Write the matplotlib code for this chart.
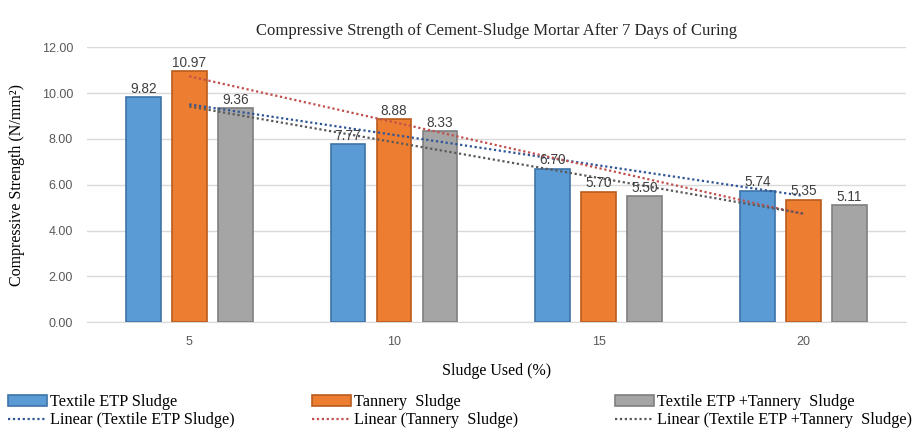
import numpy as np
import matplotlib.pyplot as plt
from matplotlib.patches import Patch
from matplotlib.lines import Line2D

# Data ............................................................................................

categories = ['5', '10', '15', '20']
textile = [9.82, 7.77, 6.70, 5.74]
tannery = [10.97, 8.88, 5.70, 5.35]
mixed = [9.36, 8.33, 5.50, 5.11]

names = ['Textile ETP Sludge', 'Tannery  Sludge', 'Textile ETP +Tannery  Sludge']
y_ticks = [0, 2, 4, 6, 8, 10, 12]

# Styles
bar_colors = ['#5B9BD5', '#ED7D31', '#A5A5A5']
edge_colors = ['#3E73A8', '#B95C1E', '#7F7F7F']
trend_colors = ['#2F5597', '#C0504D', '#595959']

serif = 'Liberation Serif'
sans = 'Liberation Sans'

# Figure ..........................................................................................

fig = plt.figure(figsize = (9.15, 4.29), dpi = 100)
ax = fig.add_axes([0.095, 0.249, 0.895, 0.641])

x = np.arange(len(categories))
width = 0.17
offsets = [-0.225, 0, 0.225]
series = [textile, tannery, mixed]

for vals, off, c, ec in zip(series, offsets, bar_colors, edge_colors):
    bars = ax.bar(x + off, vals, width, color = c, edgecolor = ec, linewidth = 1.2, zorder = 3)
    for b, v in zip(bars, vals):
        ax.text(b.get_x() + b.get_width() / 2, v + 0.05, f'{v:.2f}', ha = 'center', va = 'bottom',
                fontsize = 9.8, family = sans, color = '#404040', zorder = 5)

# Linear trendlines (least squares over category index, as Excel does)
for vals, c in zip(series, trend_colors):
    k, b0 = np.polyfit(x + 1, vals, 1)
    ax.plot(x, k * (x + 1) + b0, color = c, lw = 1.6, ls = (0, (1, 1.2)), zorder = 4)

ax.set_xlim(-0.5, 3.5)
ax.set_ylim(0, 12)
ax.set_yticks(y_ticks)
ax.set_yticklabels([f'{t:.2f}' for t in y_ticks], family = sans, fontsize = 9, color = '#595959')
ax.set_xticks(x)
ax.set_xticklabels(categories, family = sans, fontsize = 9, color = '#595959')
ax.tick_params(length = 0, pad = 10)
ax.grid(axis = 'y', color = '#D9D9D9', lw = 1, zorder = 0)
for s in ['top', 'right', 'left']:
    ax.spines[s].set_visible(False)
ax.spines['bottom'].set_color('#D9D9D9')

ax.set_xlabel('Sludge Used (%)', family = serif, fontsize = 11.5, labelpad = 11)
ax.set_ylabel('Compressive Strength (N/mm²)', family = serif, fontsize = 11.5, labelpad = 12)
ax.set_title('Compressive Strength of Cement-Sludge Mortar After 7 Days of Curing',
             family = serif, fontsize = 12, pad = 9, color = '#262626')

# Legend: three columns placed separately
col_x = [0.009, 0.341, 0.672]
for i in range(3):
    handles = [Patch(facecolor = bar_colors[i], edgecolor = edge_colors[i], lw = 1.2),
               Line2D([0], [0], color = trend_colors[i], lw = 1.6, ls = (0, (1, 1.2)))]
    labels = [names[i], f'Linear ({names[i]})']
    fig.legend(handles, labels, loc = 'upper left', bbox_to_anchor = (col_x[i], 0.081),
               frameon = False, prop = {'family': serif, 'size': 11.7},
               borderpad = 0, borderaxespad = 0,
               handlelength = 2.4, handleheight = 0.6, handletextpad = 0.2, labelspacing = 0.12)

fig.savefig('out.png', dpi = 100)
